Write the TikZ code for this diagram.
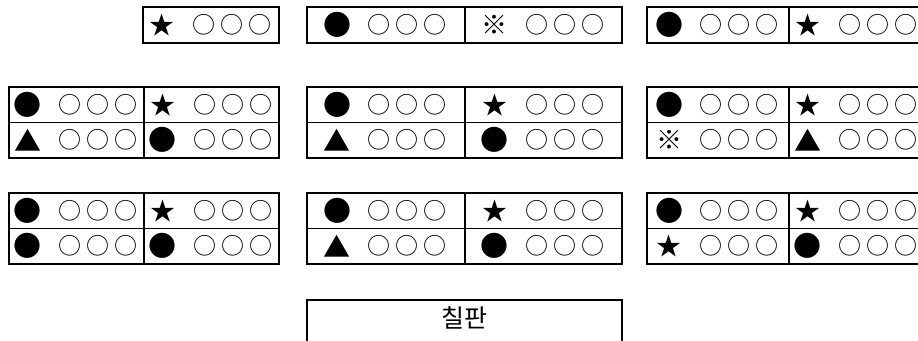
\documentclass[tikz,border=0pt]{standalone}
\usepackage{fontspec}
\setmainfont{Noto Sans CJK KR}
\usetikzlibrary{positioning,calc}

% one seat: symbol + three empty rings, centred in the cell
\newcommand{\seat}[3]{%
  \node[sym,#2] (#1s) at ($(#1.center)+(-49,0)$) {#3};
  \foreach \dx/\k in {-7/1,21/2,49/3}
    \node[ring] (#1r\k) at ($(#1.center)+(\dx,0)$) {○};
}

\begin{document}
\begin{tikzpicture}[x=1pt, y=-1pt, node distance=0pt,
  cell/.style={draw, line width=1.3pt, outer sep=0pt, inner sep=0pt, minimum height=35.5pt},
  frame/.style={line width=2pt},
  sym/.style={inner sep=0pt},
  ring/.style={inner sep=0pt, font=\fontsize{23}{23}\selectfont},
  dot/.style={font=\fontsize{28}{28}\selectfont},
  star/.style={font=\fontsize{25}{25}\selectfont},
  tri/.style={font=\fontsize{27}{27}\selectfont},
  kome/.style={font=\fontsize{26}{26}\selectfont}]
\useasboundingbox (0,0) rectangle (918,340);
\clip (0,0) rectangle (918,340);

% front row
\node[cell, minimum width=136pt, minimum height=36pt] (t1) at (211,25) {};
\node[cell, minimum width=158pt, minimum height=36pt] (t2a) at (386,25) {};
\node[cell, minimum width=157pt, minimum height=36pt, right=of t2a] (t2b) {};
\node[cell, minimum width=142pt, minimum height=36pt] (t3a) at (718,25) {};
\node[cell, minimum width=135pt, minimum height=36pt, right=of t3a] (t3b) {};

% second row
\node[cell, minimum width=135pt] (l2a) at (76.5,104.75) {};
\node[cell, minimum width=135pt, right=of l2a] (l2b) {};
\node[cell, minimum width=135pt, below=of l2a] (l2c) {};
\node[cell, minimum width=135pt, below=of l2b] (l2d) {};
\node[cell, minimum width=158pt] (m2a) at (386,104.75) {};
\node[cell, minimum width=157pt, right=of m2a] (m2b) {};
\node[cell, minimum width=158pt, below=of m2a] (m2c) {};
\node[cell, minimum width=157pt, below=of m2b] (m2d) {};
\node[cell, minimum width=142pt] (r2a) at (718,104.75) {};
\node[cell, minimum width=135pt, right=of r2a] (r2b) {};
\node[cell, minimum width=142pt, below=of r2a] (r2c) {};
\node[cell, minimum width=135pt, below=of r2b] (r2d) {};

% third row
\node[cell, minimum width=135pt] (l3a) at (76.5,210.75) {};
\node[cell, minimum width=135pt, right=of l3a] (l3b) {};
\node[cell, minimum width=135pt, below=of l3a] (l3c) {};
\node[cell, minimum width=135pt, below=of l3b] (l3d) {};
\node[cell, minimum width=158pt] (m3a) at (386,210.75) {};
\node[cell, minimum width=157pt, right=of m3a] (m3b) {};
\node[cell, minimum width=158pt, below=of m3a] (m3c) {};
\node[cell, minimum width=157pt, below=of m3b] (m3d) {};
\node[cell, minimum width=142pt] (r3a) at (718,210.75) {};
\node[cell, minimum width=135pt, right=of r3a] (r3b) {};
\node[cell, minimum width=142pt, below=of r3a] (r3c) {};
\node[cell, minimum width=135pt, below=of r3b] (r3d) {};

% outer frames
\draw[frame] (t1.north west) rectangle (t1.south east);
\draw[frame] (t2a.north west) rectangle (t2b.south east);
\draw[frame] (t3a.north west) rectangle (t3b.south east);
\foreach \g in {l2,m2,r2,l3,m3,r3}
  \draw[frame] (\g a.north west) rectangle (\g d.south east);

% marks
\seat{t1}{star}{★}
\seat{t2a}{dot}{●}   \seat{t2b}{kome}{※}
\seat{t3a}{dot}{●}   \seat{t3b}{star}{★}
\seat{l2a}{dot}{●}   \seat{l2b}{star}{★}
\seat{l2c}{tri}{▲}   \seat{l2d}{dot}{●}
\seat{m2a}{dot}{●}   \seat{m2b}{star}{★}
\seat{m2c}{tri}{▲}   \seat{m2d}{dot}{●}
\seat{r2a}{dot}{●}   \seat{r2b}{star}{★}
\seat{r2c}{kome}{※}  \seat{r2d}{tri}{▲}
\seat{l3a}{dot}{●}   \seat{l3b}{star}{★}
\seat{l3c}{dot}{●}   \seat{l3d}{dot}{●}
\seat{m3a}{dot}{●}   \seat{m3b}{star}{★}
\seat{m3c}{tri}{▲}   \seat{m3d}{dot}{●}
\seat{r3a}{dot}{●}   \seat{r3b}{star}{★}
\seat{r3c}{star}{★}  \seat{r3d}{dot}{●}

% blackboard
\node[draw, line width=1.3pt, inner sep=0pt, minimum width=315pt, minimum height=60pt] (board) at (464.5,330) {};
\node[inner sep=0pt, font=\fontsize{25}{25}\selectfont] (boardtxt) at ($(board.north)+(0,19)$) {칠판};
\end{tikzpicture}
\end{document}
